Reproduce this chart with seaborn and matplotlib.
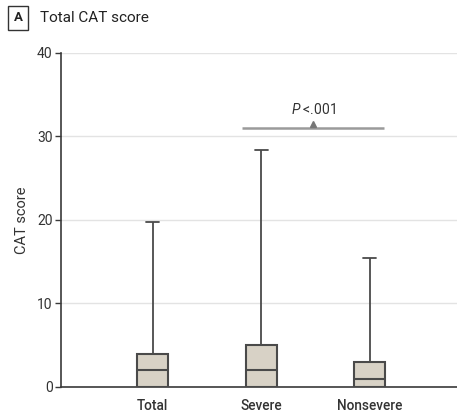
import numpy as np
import pandas as pd
import matplotlib
matplotlib.use("Agg")
import matplotlib.pyplot as plt
import seaborn as sns

# Five-number summaries (min, Q1, median, Q3, max) of the CAT score per group
groups = ["Total", "Severe", "Nonsevere"]
total_summary = [0, 0, 2, 4, 19.7]
severe_summary = [0, 0, 2, 5, 28.4]
nonsevere_summary = [0, 0, 1, 3, 15.4]
y_ticks = [0, 10, 20, 30, 40]
p_label = "<.001"

df = pd.DataFrame({
    "group": np.repeat(groups, 5),
    "score": total_summary + severe_summary + nonsevere_summary,
})

sns.set_theme(style="white")
plt.rcParams["font.family"] = ["Roboto", "DejaVu Sans"]
plt.rcParams["mathtext.fontset"] = "custom"
plt.rcParams["mathtext.it"] = "Roboto:italic"

fig = plt.figure(figsize=(4.57, 4.15), dpi=100)
ax = fig.add_axes([0.1335, 0.0675, 0.866, 0.805])

dark = "#3a3a3a"
sns.boxplot(
    data=df, x="group", y="score", order=groups, ax=ax,
    whis=(0, 100), width=0.285, color="#dbd3c3", linecolor="#4a4a4a",
    linewidth=1.5, showfliers=False, capwidths=0.12, zorder=3,
    whiskerprops=dict(linewidth=1.3), capprops=dict(linewidth=1.3),
)

ax.set_ylim(0, 40)
ax.set_xlim(-0.845, 2.8)
ax.set_yticks(y_ticks)
ax.yaxis.grid(True, color="#e3e3e3", linewidth=1.0, zorder=0)
ax.set_axisbelow(True)
for side in ("top", "right"):
    ax.spines[side].set_visible(False)
for side in ("left", "bottom"):
    ax.spines[side].set_color(dark)
    ax.spines[side].set_linewidth(1.2)
ax.tick_params(axis="y", left=True, length=4, width=1, color=dark,
               labelsize=10, labelcolor="#333333", pad=2)
ax.tick_params(axis="x", bottom=False, labelsize=9.8, labelcolor="#333333", pad=3)
for lab in ax.get_xticklabels():
    lab.set_fontweight("medium")
ax.set_xlabel("")
ax.set_ylabel("CAT score", fontsize=10.5, color="#333333", labelpad=6)

# Significance bracket between severe and nonsevere groups
ax.plot([0.826, 2.13], [31, 31], color="#9a9a9a", lw=1.8, solid_capstyle="butt", zorder=2)
ax.plot([1.478], [31.45], marker="^", ms=4.5, color="#777777", zorder=3)
ax.text(1.478, 32.3, r"$\it{P}$ " + p_label, ha="center", va="bottom",
        fontsize=10, color="#333333")

# Panel label and title
fig.text(0.0395, 0.957, "A", ha="center", va="center", fontsize=9.5,
         fontweight="bold", color="#222222",
         bbox=dict(boxstyle="square,pad=0.42", fc="white", ec="#333333", lw=1.0))
fig.text(0.088, 0.957, "Total CAT score", ha="left", va="center",
         fontsize=11, color="#222222")

fig.savefig("out.png", dpi=100)
